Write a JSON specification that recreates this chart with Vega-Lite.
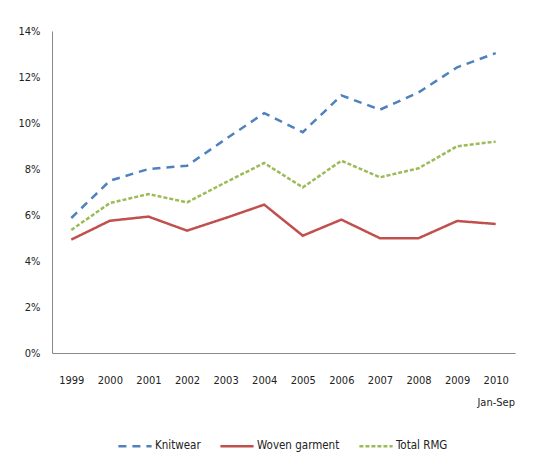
{
  "$schema": "https://vega.github.io/schema/vega-lite/v6.json",
  "width": 463,
  "height": 322,
  "autosize": {"type": "none"},
  "padding": {"left": 52, "top": 31, "right": 26, "bottom": 117},
  "background": "white",
  "config": {
    "font": "Liberation Sans Narrow, DejaVu Sans Condensed, sans-serif",
    "view": {"stroke": null},
    "axis": {"labelFont": "Liberation Sans Narrow, DejaVu Sans Condensed, sans-serif", "labelFontSize": 11, "labelColor": "#222", "domainColor": "#888", "grid": false, "ticks": false, "title": null}
  },
  "data": {
    "values": [
      {"year": "1999", "series": "Knitwear", "v": 0.0587},
      {"year": "2000", "series": "Knitwear", "v": 0.0749},
      {"year": "2001", "series": "Knitwear", "v": 0.0800},
      {"year": "2002", "series": "Knitwear", "v": 0.0814},
      {"year": "2003", "series": "Knitwear", "v": 0.0930},
      {"year": "2004", "series": "Knitwear", "v": 0.1043},
      {"year": "2005", "series": "Knitwear", "v": 0.0960},
      {"year": "2006", "series": "Knitwear", "v": 0.1120},
      {"year": "2007", "series": "Knitwear", "v": 0.1058},
      {"year": "2008", "series": "Knitwear", "v": 0.1133},
      {"year": "2009", "series": "Knitwear", "v": 0.1242},
      {"year": "2010", "series": "Knitwear", "v": 0.1304},
      {"year": "1999", "series": "Woven garment", "v": 0.0493},
      {"year": "2000", "series": "Woven garment", "v": 0.0575},
      {"year": "2001", "series": "Woven garment", "v": 0.0593},
      {"year": "2002", "series": "Woven garment", "v": 0.0532},
      {"year": "2003", "series": "Woven garment", "v": 0.0587},
      {"year": "2004", "series": "Woven garment", "v": 0.0645},
      {"year": "2005", "series": "Woven garment", "v": 0.0510},
      {"year": "2006", "series": "Woven garment", "v": 0.0580},
      {"year": "2007", "series": "Woven garment", "v": 0.0499},
      {"year": "2008", "series": "Woven garment", "v": 0.0499},
      {"year": "2009", "series": "Woven garment", "v": 0.0574},
      {"year": "2010", "series": "Woven garment", "v": 0.0561},
      {"year": "1999", "series": "Total RMG", "v": 0.0535},
      {"year": "2000", "series": "Total RMG", "v": 0.0652},
      {"year": "2001", "series": "Total RMG", "v": 0.0691},
      {"year": "2002", "series": "Total RMG", "v": 0.0655},
      {"year": "2003", "series": "Total RMG", "v": 0.0742},
      {"year": "2004", "series": "Total RMG", "v": 0.0826},
      {"year": "2005", "series": "Total RMG", "v": 0.0720},
      {"year": "2006", "series": "Total RMG", "v": 0.0836},
      {"year": "2007", "series": "Total RMG", "v": 0.0764},
      {"year": "2008", "series": "Total RMG", "v": 0.0803},
      {"year": "2009", "series": "Total RMG", "v": 0.0899},
      {"year": "2010", "series": "Total RMG", "v": 0.0919}
    ]
  },
  "mark": {"type": "line", "strokeWidth": 2.5},
  "encoding": {
    "x": {
      "field": "year", "type": "ordinal",
      "scale": {"type": "point", "padding": 0.5},
      "axis": {"labelAngle": 0, "labelPadding": 27, "labelExpr": "datum.value == '2010' ? ['2010', 'Jan-Sep'] : datum.label", "labelLineHeight": 22, "labelBaseline": "middle"}
    },
    "y": {
      "field": "v", "type": "quantitative",
      "scale": {"domain": [0, 0.14], "nice": false},
      "axis": {"values": [0, 0.02, 0.04, 0.06, 0.08, 0.1, 0.12, 0.14], "format": ".0%", "labelPadding": 12}
    },
    "color": {
      "field": "series", "type": "nominal",
      "scale": {"domain": ["Knitwear", "Woven garment", "Total RMG"], "range": ["#4F81BD", "#C0504D", "#9BBB59"]},
      "legend": {"title": null, "orient": "none", "direction": "horizontal", "legendX": 65, "legendY": 397, "symbolType": "stroke", "symbolSize": 1100, "symbolStrokeWidth": 2.5, "labelFontSize": 11.5, "labelColor": "#222", "columnPadding": 14, "labelOffset": 2, "labelFont": "Liberation Sans Narrow, DejaVu Sans Condensed, sans-serif"}
    },
    "strokeDash": {
      "field": "series", "type": "nominal",
      "scale": {"domain": ["Knitwear", "Woven garment", "Total RMG"], "range": [[8, 6], [1, 0], [4, 2]]},
      "legend": null
    }
  }
}
